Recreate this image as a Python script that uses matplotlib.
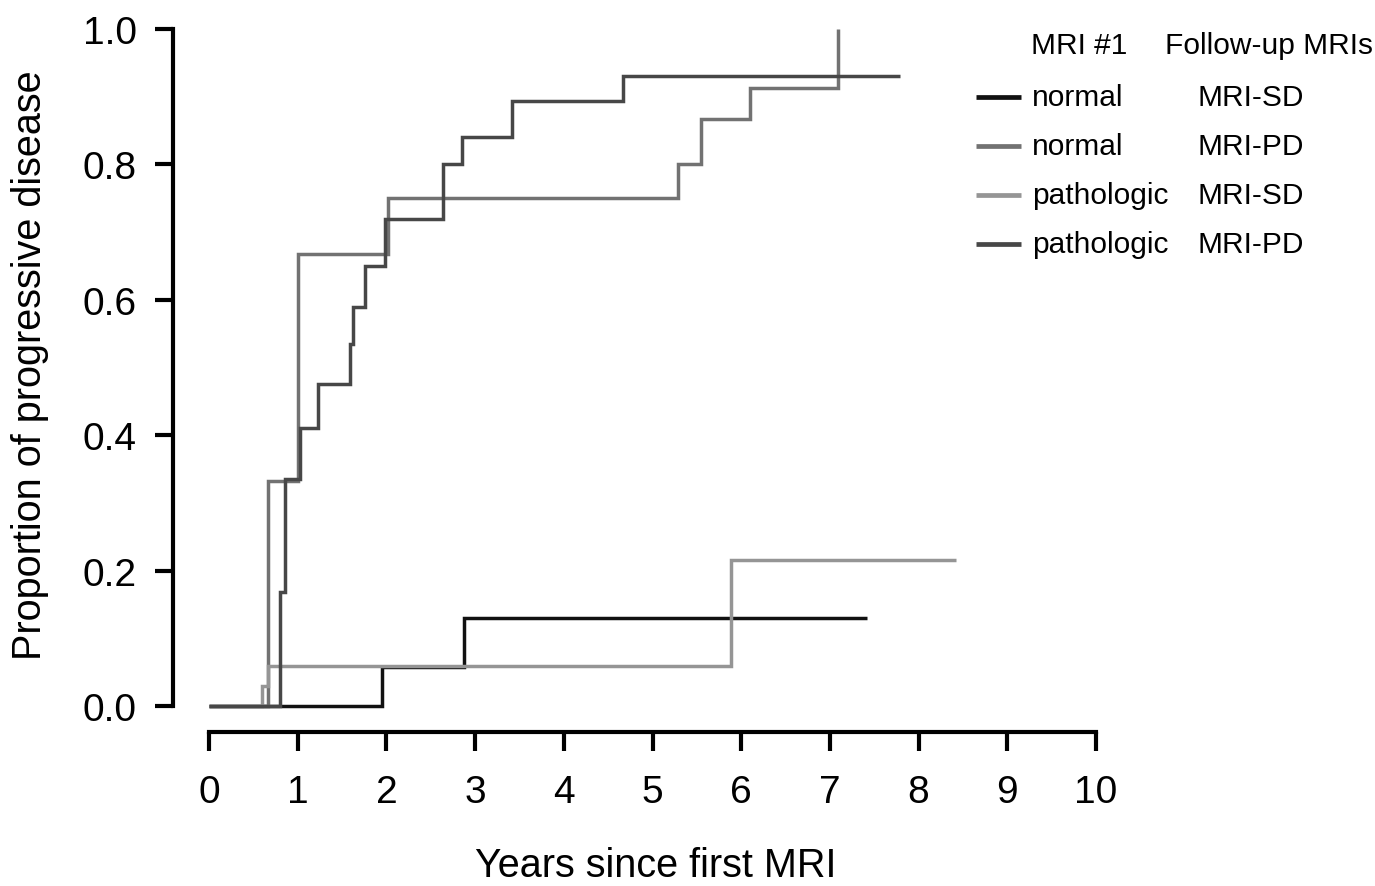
import matplotlib
matplotlib.use("Agg")
import matplotlib.pyplot as plt
from matplotlib.lines import Line2D

plt.rcParams['font.family'] = ['Liberation Sans', 'DejaVu Sans']

# Cumulative proportion of progressive disease (Kaplan-Meier style steps)
# event times (years) and the proportion reached at each time; last entry = end of follow-up
ns_times = [0.0, 1.95, 2.87]
ns_props = [0.0, 0.058, 0.13]
ns_end = 7.42

np_times = [0.0, 0.67, 1.0, 2.02, 5.29, 5.55, 6.10, 7.09]
np_props = [0.0, 0.333, 0.667, 0.75, 0.80, 0.867, 0.913, 1.0]
np_end = 7.09

ps_times = [0.0, 0.60, 0.67, 5.88]
ps_props = [0.0, 0.03, 0.059, 0.216]
ps_end = 8.42

pp_times = [0.0, 0.80, 0.86, 1.03, 1.23, 1.59, 1.62, 1.76, 1.98, 2.64, 2.85, 3.42, 4.67]
pp_props = [0.0, 0.168, 0.335, 0.41, 0.475, 0.535, 0.59, 0.65, 0.72, 0.80, 0.84, 0.894, 0.93]
pp_end = 7.79

mri1_labels = ["normal", "normal", "pathologic", "pathologic"]
followup_labels = ["MRI-SD", "MRI-PD", "MRI-SD", "MRI-PD"]
colors = ["#111111", "#727272", "#959595", "#474747"]

x_ticks = list(range(0, 11))
y_ticks = [0.0, 0.2, 0.4, 0.6, 0.8, 1.0]

W, H = 1375, 887
fig = plt.figure(figsize=(W / 100, H / 100), dpi=100)
ax = fig.add_axes([209 / W, 1 - 707 / H, (1096 - 209) / W, (707 - 30) / H])

curves = [
    (ns_times, ns_props, ns_end),
    (np_times, np_props, np_end),
    (ps_times, ps_props, ps_end),
    (pp_times, pp_props, pp_end),
]
for (t, p, end), c in zip(curves, colors):
    xs = list(t) + [end]
    ys = list(p) + [p[-1]]
    ax.step(xs, ys, where='post', color=c, lw=2.5, clip_on=False,
            solid_joinstyle='miter', solid_capstyle='butt')

ax.set_xlim(0, 10)
ax.set_ylim(0, 1)
for s in ['top', 'right']:
    ax.spines[s].set_visible(False)
ax.spines['left'].set_position(('outward', 26))
ax.spines['bottom'].set_position(('outward', 18.7))
ax.spines['left'].set_bounds(0, 1)
ax.spines['bottom'].set_bounds(0, 10)
for s in ['left', 'bottom']:
    ax.spines[s].set_linewidth(3)
    ax.spines[s].set_capstyle('projecting')

ax.set_xticks(x_ticks)
ax.set_xticklabels([str(v) for v in x_ticks])
ax.set_yticks(y_ticks)
ax.set_yticklabels([f"{v:.1f}" for v in y_ticks])
ax.tick_params(axis='y', length=13, width=3, pad=13, labelsize=28, color='black')
ax.tick_params(axis='x', length=14, width=3, pad=16, labelsize=28, color='black')

fig.text(30 / W, 1 - 365 / H, "Proportion of progressive disease", rotation=90,
         ha='center', va='center', fontsize=28.5)
fig.text(656 / W, 1 - 866 / H, "Years since first MRI", ha='center', va='center',
         fontsize=28.5)

# two-column legend drawn by hand
fig.text(1031 / W, 1 - 46 / H, "MRI #1", ha='left', va='center', fontsize=21.5)
fig.text(1165 / W, 1 - 46 / H, "Follow-up MRIs", ha='left', va='center', fontsize=21.5)
row_y = [98, 147, 196, 245]
for y, c, a, b in zip(row_y, colors, mri1_labels, followup_labels):
    fig.add_artist(Line2D([976 / W, 1021 / W], [1 - y / H, 1 - y / H],
                          transform=fig.transFigure, color=c, lw=3.4,
                          solid_capstyle='butt'))
    fig.text(1032 / W, 1 - y / H, a, ha='left', va='center', fontsize=21.5)
    fig.text(1198 / W, 1 - y / H, b, ha='left', va='center', fontsize=21.5)

fig.savefig("out.png", dpi=100, facecolor='white')
